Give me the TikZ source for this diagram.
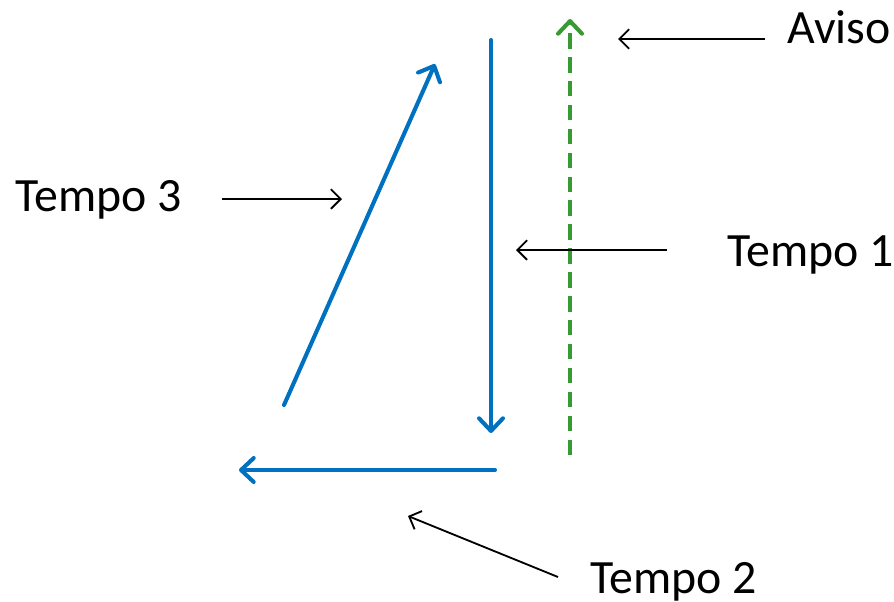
\documentclass[tikz,border=0pt]{standalone}
\usepackage{fontspec}
\setmainfont{Carlito}
\usepackage{tikz}
\usetikzlibrary{arrows.meta, positioning}
\definecolor{beatblue}{RGB}{0,112,192}
\definecolor{cuegreen}{RGB}{55,155,50}
\tikzset{beat/.style={draw=beatblue, line width=2.9pt, line cap=round, -{Straight Barb[length=9pt, width=17pt, line width=2.9pt, round]}},
  cue/.style={draw=cuegreen, line width=2.9pt, dash pattern=on 11pt off 6pt, -{Straight Barb[length=9pt, width=17pt, line width=2.9pt, round]}},
  pointer/.style={draw=black, line width=1.3pt, -{Straight Barb[length=7pt, width=14pt, line width=1.3pt]}},
  tag/.style={anchor=base west, inner sep=0pt, font=\fontsize{34}{40}\selectfont}}

\begin{document}
\begin{tikzpicture}[x=0.025cm, y=-0.025cm]
\useasboundingbox (0, 0) rectangle (894, 601);
% beat pattern
\coordinate (t1Start) at (491, 40);
\coordinate (t1End) at (491, 433);
\coordinate (t2Start) at (495, 470);
\coordinate (t2End) at (239, 470);
\coordinate (t3Start) at (284, 405);
\coordinate (t3End) at (435, 64);
\coordinate (avisoStart) at (570, 455);
\coordinate (avisoEnd) at (570, 19);
\draw[beat] (t1Start) -- (t1End);
\draw[beat] (t2Start) -- (t2End);
\draw[beat] (t3Start) -- (t3End);
\draw[cue] (avisoStart) -- (avisoEnd);
% labels
\node[tag] (aviso) at (787, 43) {Aviso};
\node[tag] (tempo1) at (727, 266) {Tempo 1};
\node[tag] (tempo2) at (590, 593) {Tempo 2};
\node[tag] (tempo3) at (15, 211) {Tempo 3};
% pointers
\coordinate (avisoTail) at (765, 39);
\coordinate (avisoTip) at (618, 39);
\coordinate (tempo1Tail) at (667, 250);
\coordinate (tempo1Tip) at (516, 250);
\coordinate (tempo2Tail) at (558, 577);
\coordinate (tempo2Tip) at (408, 516);
\coordinate (tempo3Tail) at (222, 199);
\coordinate (tempo3Tip) at (342, 199);
\draw[pointer] (avisoTail) -- (avisoTip);
\draw[pointer] (tempo1Tail) -- (tempo1Tip);
\draw[pointer] (tempo2Tail) -- (tempo2Tip);
\draw[pointer] (tempo3Tail) -- (tempo3Tip);
\end{tikzpicture}
\end{document}
